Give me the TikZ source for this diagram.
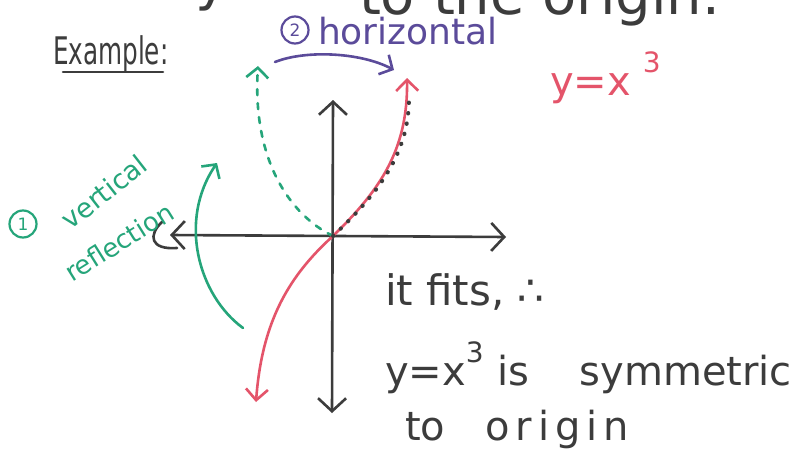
\documentclass[tikz,border=0pt]{standalone}
\usepackage{fontspec}
\setmainfont{DejaVu Sans}
\usetikzlibrary{arrows.meta}
\definecolor{ink}{HTML}{3C3C3C}
\definecolor{redink}{HTML}{E4546A}
\definecolor{greenink}{HTML}{25A57A}
\definecolor{purpleink}{HTML}{5B4B9A}
\tikzset{
  pen/.style={line width=2.6pt, line cap=round, line join=round},
  tipS/.style={-{Straight Barb[length=10pt,width=22pt,line width=2.6pt]}},
  tipB/.style={{Straight Barb[length=13pt,width=28pt,line width=2.6pt]}-{Straight Barb[length=13pt,width=28pt,line width=2.6pt]}},
  tipR/.style={{Straight Barb[length=11pt,width=22pt,line width=2.6pt]}-{Straight Barb[length=11pt,width=22pt,line width=2.6pt]}},
  txt/.style={inner sep=0pt, outer sep=0pt},
  circ/.style={circle, draw, line width=2.2pt, inner sep=1.5pt, minimum size=27pt, font=\fontsize{17}{19}\selectfont},
}
\begin{document}
\begin{tikzpicture}[x=1pt,y=-1pt]
\useasboundingbox (0,0) rectangle (792,460);
\fill[white] (0,0) rectangle (792,460);

% coordinates
\coordinate (O) at (333,236);
\coordinate (xl) at (170,235);
\coordinate (xr) at (506,237);
\coordinate (yt) at (333,100);
\coordinate (yb) at (332,413);
\coordinate (rt) at (407,78);
\coordinate (rb) at (256,402);
\coordinate (gd) at (258,66);
\coordinate (ga) at (243,328);
\coordinate (gt) at (217,163);
\coordinate (pa) at (275,62);
\coordinate (pb) at (394,70);

% top cut-off line
\node[txt, anchor=base west, ink, font=\fontsize{56}{60}\selectfont] (topy) at (195,0) {y};
\node[txt, anchor=base east, ink, font=\fontsize{56}{60}\selectfont] (toporigin) at (720,15) {to the origin.};

% Example
\node[txt, anchor=base west, ink, font=\fontsize{38}{42}\selectfont] (example) at (53,65) {\scalebox{0.65}[1]{Example:}};
\draw[pen, ink] (63,72) -- (163,72);

% axes
\draw[pen, ink, tipB] (xl) -- (xr);
\draw[pen, ink] (162,222) .. controls (148,235) and (150,250) .. (177,248);
\draw[pen, ink, tipB] (yb) -- (yt);

% green dashed reflected branch
\draw[pen, greenink, dash pattern=on 6pt off 8pt, tipS] (O) .. controls (290,215) and (252,160) .. (gd);

% red curve
\draw[pen, redink, tipR] (rb) .. controls (262,320) and (290,275) .. (O) .. controls (380,190) and (408,150) .. (rt);
% dotted overlay
\draw[ink, line width=4pt, line cap=round, dash pattern=on 0.5pt off 10pt, shift={(2,0)}] (O) .. controls (380,190) and (408,150) .. (407,95);

% green vertical reflection arrow
\draw[pen, greenink, tipS] (ga) .. controls (198,295) and (178,220) .. (gt);

% purple horizontal arrow
\draw[pen, purpleink, tipS] (pa) .. controls (305,50) and (360,52) .. (pb);

% labels
\node[circ, purpleink] (c2) at (295,30) {2};
\node[txt, anchor=base west, purpleink, font=\fontsize{36}{40}\selectfont] (horiz) at (318,45) {horizontal};

\node[circ, greenink] (c1) at (23,224) {1};
\node[txt, greenink, rotate=38, font=\fontsize{27}{30}\selectfont] (vert) at (104,192) {vertical};
\node[txt, greenink, rotate=32, font=\fontsize{26}{30}\selectfont] (refl) at (119,242) {reflection};

\node[txt, anchor=base west, redink, font=\fontsize{40}{44}\selectfont] (eq) at (550,95) {y=x\hspace{12pt}\raisebox{23pt}{\fontsize{28}{30}\selectfont 3}};

\node[txt, anchor=base west, ink, font=\fontsize{42}{46}\selectfont] (fits) at (385,305) {it fits, ∴};
\node[txt, anchor=base west, ink, font=\fontsize{40}{44}\selectfont] (sym) at (385,385) {y=x\raisebox{23pt}{\fontsize{28}{30}\selectfont 3}\hspace{14pt}is\hspace{50pt}symmetric};
\node[txt, anchor=base west, ink, font=\fontsize{40}{44}\selectfont] (orig) at (405,440) {to\hspace{40pt}{\addfontfeature{LetterSpace=15}origin}};
\end{tikzpicture}
\end{document}
